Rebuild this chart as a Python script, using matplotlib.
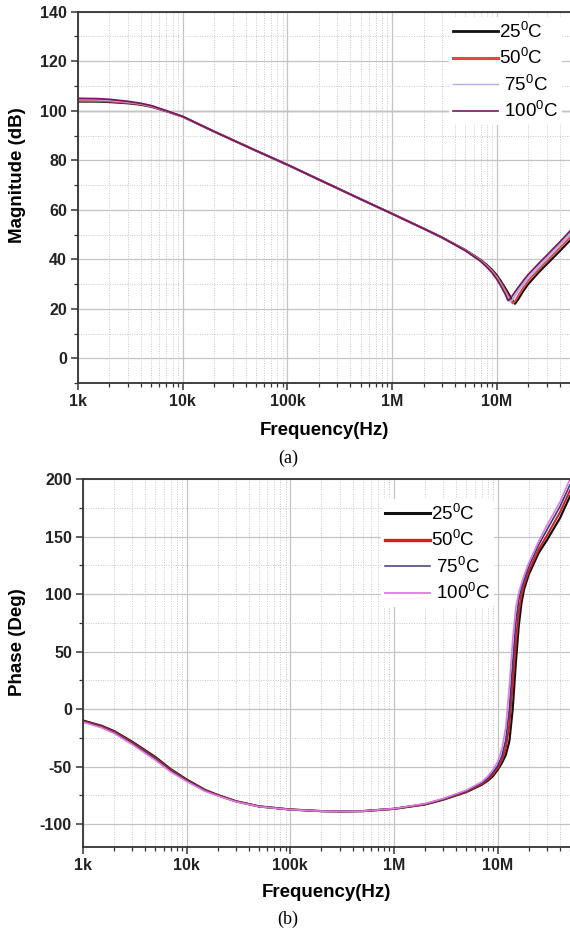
import matplotlib
matplotlib.use('Agg')
import matplotlib.pyplot as plt
from matplotlib.ticker import FixedLocator, MultipleLocator, LogLocator, NullFormatter, FuncFormatter

plt.rcParams['font.family'] = ['Liberation Sans', 'DejaVu Sans']
plt.rcParams['mathtext.fontset'] = 'custom'
plt.rcParams['mathtext.rm'] = 'Liberation Sans'
plt.rcParams['axes.unicode_minus'] = False

# ---- data ----
temps = ['25', '50', ' 75', ' 100']

# magnitude (dB)
freq_mag = [1e3, 1.5e3, 2e3, 3e3, 4e3, 5e3, 7e3, 1e4, 2e4, 5e4, 1e5, 2e5, 5e5, 1e6, 2e6, 3e6,
            5e6, 7e6, 8e6, 9e6, 10e6, 11e6, 12e6, 12.8e6, 13.5e6, 14.2e6, 14.9e6, 16e6, 18e6,
            20e6, 25e6, 30e6, 40e6, 50e6]
mag_25 = [103.7, 103.7, 103.5, 103.0, 102.4, 101.6, 99.8, 97.6, 91.6, 83.9, 78.2, 72.2, 64.3, 58.4,
          52.4, 48.8, 43.8, 39.8, 37.8, 35.8, 33.6, 31.0, 28.5, 26.5, 24.8, 23.3, 22.0, 23.8, 27.3,
          30.0, 34.6, 38.0, 43.3, 47.6]
mag_50 = [104.0, 104.0, 103.8, 103.2, 102.6, 101.7, 99.8, 97.6, 91.6, 83.9, 78.2, 72.2, 64.3, 58.4,
          52.4, 48.8, 43.7, 39.6, 37.5, 35.4, 33.0, 30.3, 27.6, 25.5, 23.6, 22.2, 23.0, 25.3, 28.7,
          31.3, 35.8, 39.2, 44.6, 48.9]
mag_75 = [104.6, 104.5, 104.2, 103.5, 102.8, 101.9, 99.9, 97.6, 91.6, 83.9, 78.2, 72.2, 64.3, 58.4,
          52.4, 48.8, 43.6, 39.4, 37.2, 35.0, 32.4, 29.6, 26.8, 24.5, 22.8, 23.8, 25.2, 27.2, 30.2,
          32.6, 37.0, 40.4, 45.8, 50.2]
mag_100 = [105.0, 104.9, 104.6, 103.8, 103.0, 102.1, 100.0, 97.7, 91.6, 83.9, 78.2, 72.2, 64.3, 58.4,
           52.4, 48.8, 43.5, 39.2, 36.9, 34.6, 31.9, 29.0, 26.0, 23.3, 24.2, 25.5, 26.8, 28.6, 31.5,
           33.9, 38.2, 41.6, 47.0, 51.4]

# phase (deg)
freq_ph = [1e3, 1.5e3, 2e3, 3e3, 4e3, 5e3, 7e3, 1e4, 1.5e4, 2e4, 3e4, 5e4, 1e5, 2e5, 3e5, 5e5, 1e6,
           2e6, 3e6, 5e6, 7e6, 8e6, 9e6, 10e6, 11e6, 12e6, 13e6, 14e6, 15e6, 16e6, 17e6, 18e6,
           20e6, 25e6, 30e6, 40e6, 50e6]
ph_25 = [-10.0, -14.5, -19.2, -28.6, -36.0, -41.8, -52.2, -61.3, -70.3, -74.8, -80.2, -84.7, -87.4,
         -88.8, -89.0, -88.8, -86.8, -83.0, -78.8, -72.2, -66.0, -62.5, -58.5, -53.0, -47.0, -40.0,
         -28.0, 0.0, 40.0, 72.0, 92.0, 104.0, 117.0, 136.0, 147.0, 166.0, 185.0]
ph_50 = [-10.4, -15.0, -19.8, -29.3, -36.8, -42.6, -52.9, -61.8, -70.6, -75.0, -80.3, -84.7, -87.4,
         -88.8, -89.0, -88.8, -86.8, -82.8, -78.5, -71.8, -65.3, -61.5, -57.0, -51.5, -44.5, -34.0,
         -14.0, 22.0, 58.0, 84.0, 99.0, 108.0, 120.0, 139.0, 151.0, 171.0, 190.0]
ph_75 = [-10.9, -15.6, -20.5, -30.1, -37.7, -43.5, -53.7, -62.4, -71.0, -75.3, -80.5, -84.8, -87.4,
         -88.8, -89.0, -88.8, -86.7, -82.6, -78.2, -71.3, -64.5, -60.3, -55.3, -49.5, -41.0, -27.0,
         0.0, 40.0, 75.0, 95.0, 105.0, 112.0, 124.0, 143.0, 156.0, 176.0, 195.0]
ph_100 = [-11.4, -16.2, -21.2, -31.0, -38.6, -44.5, -54.6, -63.0, -71.5, -75.6, -80.7, -84.9, -87.5,
          -88.8, -89.0, -88.8, -86.6, -82.3, -77.8, -70.6, -63.5, -58.8, -53.0, -46.0, -35.0, -16.0,
          20.0, 60.0, 88.0, 101.0, 109.0, 116.0, 127.0, 146.0, 160.0, 180.0, 200.0]

mag_colors = ['#111111', '#e04848', '#aab0e2', '#7a1560']
mag_lw = [1.5, 1.5, 1.3, 1.3]
ph_colors = ['#111111', '#cc2222', '#3a3a78', '#e07ae0']
ph_lw = [1.6, 1.5, 1.2, 1.2]
leg_lw_mag = [2.0, 2.2, 1.0, 1.2]
leg_lw_ph = [2.2, 2.4, 1.1, 1.3]

xtick_vals = [1e3, 1e4, 1e5, 1e6, 1e7]
xtick_labels = ['1k', '10k', '100k', '1M', '10M']


def style_axes(ax, yticks, yminor, xlim):
    ax.set_xscale('log')
    ax.set_xlim(*xlim)
    ax.xaxis.set_major_locator(FixedLocator(xtick_vals))
    ax.xaxis.set_major_formatter(FuncFormatter(lambda v, p: xtick_labels[xtick_vals.index(v)] if v in xtick_vals else ''))
    ax.xaxis.set_minor_locator(LogLocator(base=10, subs=range(2, 10), numticks=20))
    ax.xaxis.set_minor_formatter(NullFormatter())
    ax.set_yticks(yticks)
    ax.yaxis.set_minor_locator(MultipleLocator(yminor))
    ax.grid(which='major', color='#c4c4c4', lw=0.9, ls='-')
    ax.grid(which='minor', color='#c8c8c8', lw=0.7, ls=(0, (1, 1.5)))
    ax.set_axisbelow(True)
    ax.spines['right'].set_visible(False)
    for s in ['left', 'bottom', 'top']:
        ax.spines[s].set_color('#333333')
        ax.spines[s].set_linewidth(1.3)
    ax.tick_params(which='major', direction='out', length=5, width=1.1, color='#333333', pad=3)
    ax.tick_params(which='minor', direction='out', length=3, width=0.9, color='#333333')
    ax.tick_params(top=False, right=False, which='both')
    for lab in ax.get_xticklabels() + ax.get_yticklabels():
        lab.set_fontweight('bold')
        lab.set_fontsize(11.5)
        lab.set_color('#222222')


fig = plt.figure(figsize=(5.7, 9.32), dpi=100)

# ---- (a) magnitude ----
ax1 = fig.add_axes([0.1368, 0.589, 0.8632, 0.3984])
mags = [mag_25, mag_50, mag_75, mag_100]
for i, t in enumerate(temps):
    ax1.plot(freq_mag, mags[i], color=mag_colors[i], lw=mag_lw[i], label=t + r'$^\mathregular{0}$C')
ax1.set_ylim(-10, 140)
style_axes(ax1, range(0, 141, 20), 10, (1e3, 5e7))
ax1.axhline(100, color='#555555', lw=0.9, zorder=0.5)
ax1.set_ylabel('Magnitude (dB)', fontsize=13.5, fontweight='bold')
ax1.yaxis.set_label_coords(-0.106, 0.56)
ax1.set_xlabel('Frequency(Hz)', fontsize=13.5, fontweight='bold')
ax1.xaxis.set_label_coords(0.5, -0.106)
leg1 = ax1.legend(loc='upper left', bbox_to_anchor=(0.755, 0.985), fontsize=13.5, frameon=True,
                  framealpha=1, edgecolor='none', facecolor='white', handlelength=2.4,
                  handletextpad=0.05, labelspacing=0.3, borderpad=0.2, borderaxespad=0)
for i, h in enumerate(leg1.get_lines()):
    h.set_linewidth(leg_lw_mag[i])

# ---- (b) phase ----
ax2 = fig.add_axes([0.1456, 0.0912, 0.8544, 0.3948])
phs = [ph_25, ph_50, ph_75, ph_100]
for i, t in enumerate(temps):
    ax2.plot(freq_ph, phs[i], color=ph_colors[i], lw=ph_lw[i], label=t + r'$^\mathregular{0}$C')
ax2.set_ylim(-120, 200)
style_axes(ax2, range(-100, 201, 50), 25, (1e3, 5e7))
ax2.set_ylabel('Phase (Deg)', fontsize=13.5, fontweight='bold')
ax2.yaxis.set_label_coords(-0.117, 0.557)
ax2.set_xlabel('Frequency(Hz)', fontsize=13.5, fontweight='bold')
ax2.xaxis.set_label_coords(0.5, -0.1)
leg2 = ax2.legend(loc='upper left', bbox_to_anchor=(0.612, 0.945), fontsize=13.5, frameon=True,
                  framealpha=1, edgecolor='none', facecolor='white', handlelength=2.4,
                  handletextpad=0.05, labelspacing=0.3, borderpad=0.2, borderaxespad=0)
for i, h in enumerate(leg2.get_lines()):
    h.set_linewidth(leg_lw_ph[i])

# captions
fig.text(0.505, 0.5086, '(a)', ha='center', va='center', fontsize=13, family='Liberation Serif')
fig.text(0.505, 0.014, '(b)', ha='center', va='center', fontsize=13, family='Liberation Serif')

fig.savefig('out.png', dpi=100, facecolor='white')
